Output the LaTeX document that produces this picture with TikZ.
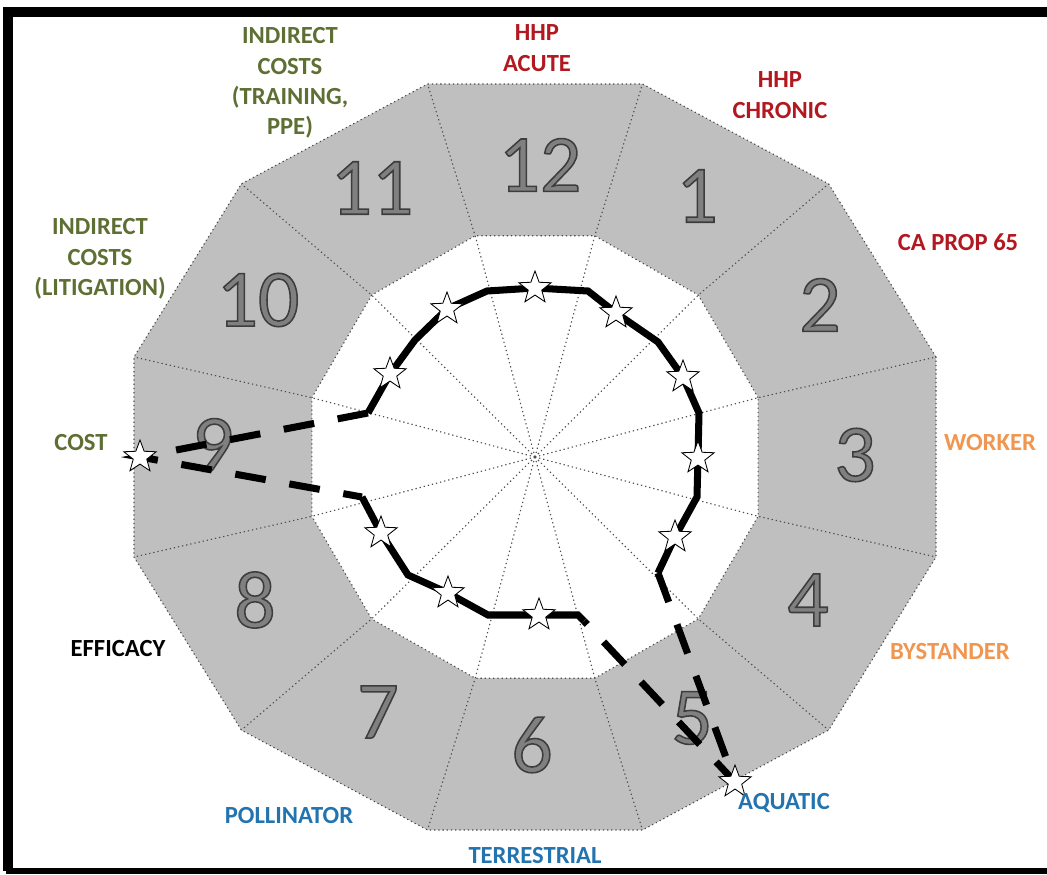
\documentclass[tikz,border=0pt]{standalone}
\usepackage{fontspec}
\setmainfont{Carlito}
\usepackage{tikz}
\usetikzlibrary{shapes.geometric}
\definecolor{ringgray}{RGB}{191,191,191}
\definecolor{numfill}{RGB}{128,128,128}
\definecolor{costgreen}{RGB}{94,111,52}
\definecolor{hhpred}{RGB}{178,24,32}
\definecolor{workorange}{RGB}{240,150,80}
\definecolor{ecoblue}{RGB}{35,115,175}
% outlined digits: fill + stroke render mode
\newcommand{\edged}[1]{\special{pdf:literal direct q 2 Tr 1.1 w 0.24 0.24 0.24 RG}#1\special{pdf:literal direct Q}}
\newcommand{\ringnum}[3]{\node[font=\fontsize{58}{58}\selectfont, text=numfill, inner sep=0pt] (num#3) at ( #1 , #2 ) {\edged{#3}};}
\newcommand{\ratestar}[1]{\node[star, star points=5, star point ratio=2.4, draw=black, fill=white, line width=0.6pt, minimum size=0.85cm, inner sep=0pt] (star#1) at (p#1) {};}
\newcommand{\critlabel}[5]{\node[font=\bfseries\fontsize{17.5}{21.5}\selectfont, align=center, text=#5, inner sep=0pt] (#1) at ( #2 , #3 ) {#4};}
\tikzset{
  sectorline/.style={draw=black!70, line width=0.8pt, dash pattern=on 0.9pt off 2.1pt},
  rateline/.style={line width=5pt},
  jumpline/.style={line width=5pt, dash pattern=on 22pt off 17pt}
}

\begin{document}
\begin{tikzpicture}[x=0.025cm, y=0.025cm]
        \useasboundingbox (-535,-418) rectangle (512,457);
        % frame
        \draw[line width=7pt] (512,445) -- (-527,445) -- (-527,-414);
        \draw[line width=4.5pt] (-529,-414) -- (512,-414);

        % outer corners
        \coordinate (c) at (0,0);
        \coordinate (o1) at (401.0,100.0);
        \coordinate (o2) at (293.6,273.1);
        \coordinate (o3) at (107.5,373.0);
        \coordinate (o4) at (-107.5,373.0);
        \coordinate (o5) at (-293.6,273.1);
        \coordinate (o6) at (-401.0,100.0);
        \coordinate (o7) at (-401.0,-100.0);
        \coordinate (o8) at (-293.6,-273.1);
        \coordinate (o9) at (-107.5,-373.0);
        \coordinate (o10) at (107.5,-373.0);
        \coordinate (o11) at (293.6,-273.1);
        \coordinate (o12) at (401.0,-100.0);
        % inner corners
        \coordinate (i1) at (223.1,59.3);
        \coordinate (i2) at (163.3,161.9);
        \coordinate (i3) at (59.8,221.2);
        \coordinate (i4) at (-59.8,221.2);
        \coordinate (i5) at (-163.3,161.9);
        \coordinate (i6) at (-223.1,59.3);
        \coordinate (i7) at (-223.1,-59.3);
        \coordinate (i8) at (-163.3,-161.9);
        \coordinate (i9) at (-59.8,-221.2);
        \coordinate (i10) at (59.8,-221.2);
        \coordinate (i11) at (163.3,-161.9);
        \coordinate (i12) at (223.1,-59.3);

        % ring
        \fill[ringgray] (o1) -- (o2) -- (o3) -- (o4) -- (o5) -- (o6) -- (o7) -- (o8) -- (o9) -- (o10) -- (o11) -- (o12) -- cycle;
        \fill[white] (i1) -- (i2) -- (i3) -- (i4) -- (i5) -- (i6) -- (i7) -- (i8) -- (i9) -- (i10) -- (i11) -- (i12) -- cycle;
        \draw[sectorline] (o1) -- (o2) -- (o3) -- (o4) -- (o5) -- (o6) -- (o7) -- (o8) -- (o9) -- (o10) -- (o11) -- (o12) -- cycle;
        \draw[sectorline] (i1) -- (i2) -- (i3) -- (i4) -- (i5) -- (i6) -- (i7) -- (i8) -- (i9) -- (i10) -- (i11) -- (i12) -- cycle;
        % spokes
        \draw[sectorline] (c) -- (i1) -- (o1);
        \draw[sectorline] (c) -- (i2) -- (o2);
        \draw[sectorline] (c) -- (i3) -- (o3);
        \draw[sectorline] (c) -- (i4) -- (o4);
        \draw[sectorline] (c) -- (i5) -- (o5);
        \draw[sectorline] (c) -- (i6) -- (o6);
        \draw[sectorline] (c) -- (i7) -- (o7);
        \draw[sectorline] (c) -- (i8) -- (o8);
        \draw[sectorline] (c) -- (i9) -- (o9);
        \draw[sectorline] (c) -- (i10) -- (o10);
        \draw[sectorline] (c) -- (i11) -- (o11);
        \draw[sectorline] (c) -- (i12) -- (o12);

        % sector numbers
        \ringnum{5}{292}{12}
        \ringnum{162}{261}{1}
        \ringnum{285}{152}{2}
        \ringnum{320}{2}{3}
        \ringnum{273}{-143}{4}
        \ringnum{157}{-261}{5}
        \ringnum{-3}{-288}{6}
        \ringnum{-157}{-255}{7}
        \ringnum{-280}{-143}{8}
        \ringnum{-322}{12}{9}
        \ringnum{-277}{157}{10}
        \ringnum{-163}{269}{11}

        % rating points
        \coordinate (pa) at (-167,44);
        \coordinate (p10) at (-145,83);
        \coordinate (k10) at (-120,117);
        \coordinate (p11) at (-88,148);
        \coordinate (k11) at (-48,166);
        \coordinate (p12) at (0,169);
        \coordinate (k12) at (53,166);
        \coordinate (p1) at (81,144);
        \coordinate (k1) at (123,115);
        \coordinate (p2) at (148,80);
        \coordinate (k2) at (164,44);
        \coordinate (p3) at (163,-1);
        \coordinate (k3) at (162,-40);
        \coordinate (p4) at (140,-80);
        \coordinate (pb) at (123,-116);
        \coordinate (pc) at (-173,-40);
        \coordinate (p8) at (-154,-76);
        \coordinate (k8) at (-127,-118);
        \coordinate (p7) at (-87,-136);
        \coordinate (k7) at (-47,-158);
        \coordinate (p6) at (4,-158);
        \coordinate (k6) at (43,-158);
        \coordinate (pd) at (49,-164);
        \coordinate (p9) at (-395,0);
        \coordinate (p5) at (200,-325);

        % solid parts
        \draw[rateline] (pa) -- (p10) -- (k10) -- (p11) -- (k11) -- (p12) -- (k12) -- (p1) -- (k1) -- (p2) -- (k2) -- (p3) -- (k3) -- (p4) -- (pb);
        \draw[rateline] (pc) -- (p8) -- (k8) -- (p7) -- (k7) -- (p6) -- (k6) -- (pd);
        % dashed parts
        \draw[jumpline] (pa) -- (p9) -- (pc);
        \draw[jumpline] (pb) -- (p5) -- (pd);

        % stars
        \ratestar{12}
        \ratestar{1}
        \ratestar{2}
        \ratestar{3}
        \ratestar{4}
        \ratestar{5}
        \ratestar{6}
        \ratestar{7}
        \ratestar{8}
        \ratestar{9}
        \ratestar{10}
        \ratestar{11}

        % labels
        \critlabel{lacute}{2}{409}{HHP\\ACUTE}{hhpred}
        \critlabel{lchronic}{245}{362}{HHP\\CHRONIC}{hhpred}
        \critlabel{lprop}{423}{215}{CA PROP 65}{hhpred}
        \critlabel{lworker}{455}{14}{WORKER}{workorange}
        \critlabel{lbystander}{415}{-195}{BYSTANDER}{workorange}
        \critlabel{laquatic}{249}{-346}{AQUATIC}{ecoblue}
        \critlabel{lterr}{0}{-399}{TERRESTRIAL}{ecoblue}
        \critlabel{lpoll}{-246}{-359}{POLLINATOR}{ecoblue}
        \critlabel{lefficacy}{-417}{-192}{EFFICACY}{black}
        \critlabel{lcost}{-454}{14}{COST}{costgreen}
        \critlabel{llitig}{-435}{198}{INDIRECT\\COSTS\\(LITIGATION)}{costgreen}
        \critlabel{ltrain}{-245}{374}{INDIRECT\\COSTS\\(TRAINING,\\PPE)}{costgreen}
    \end{tikzpicture}
\end{document}
